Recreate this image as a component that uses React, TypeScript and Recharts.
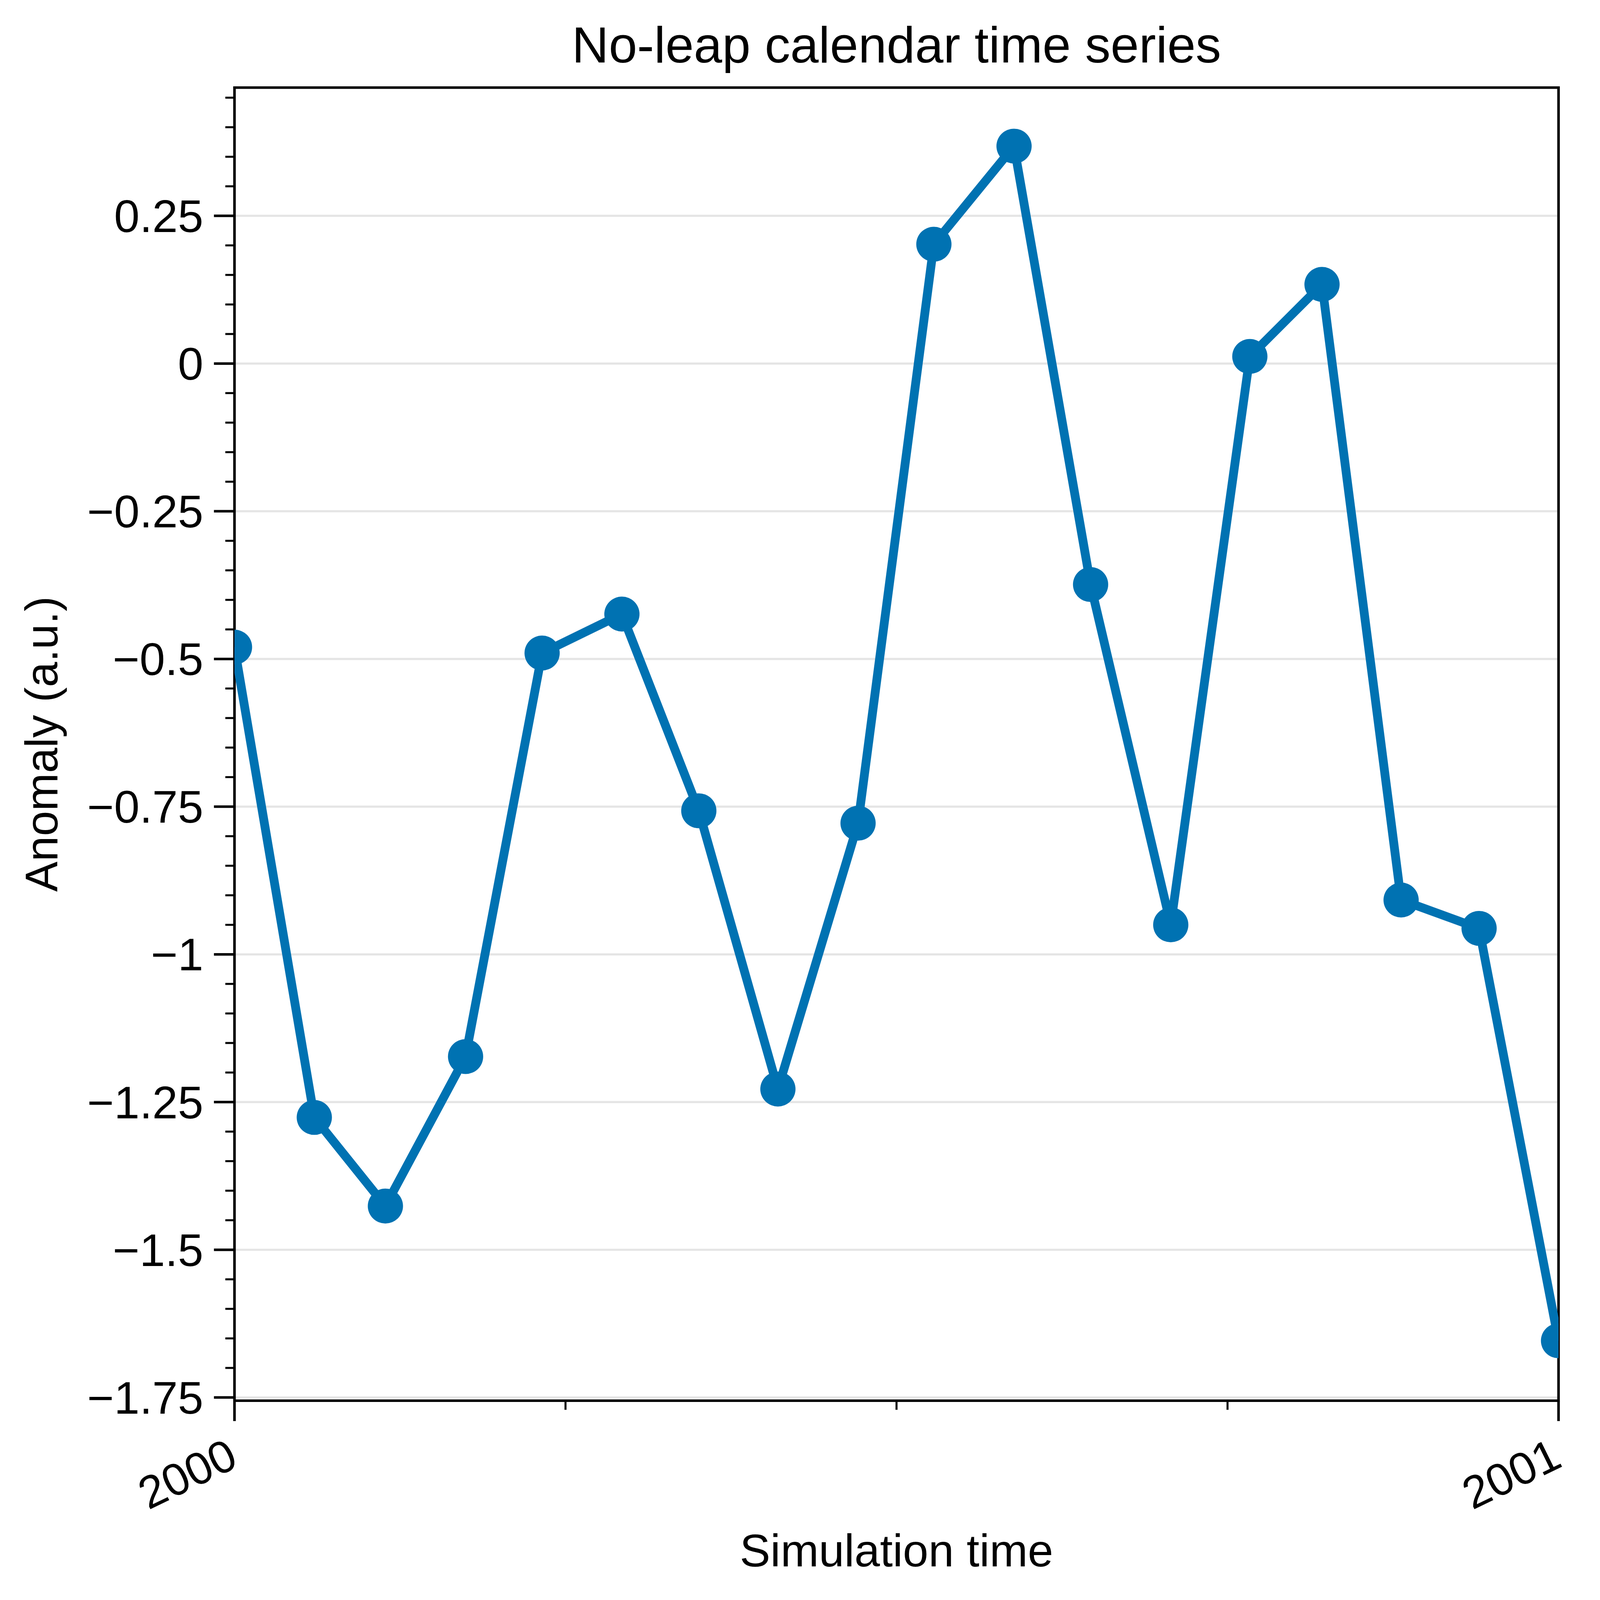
import { LineChart, Line, XAxis, YAxis, CartesianGrid, ReferenceArea } from "recharts";

// days since 2000-01-01 (no-leap calendar, 365 days in the year)
const dayOffsets = [0, 22.0, 41.6, 63.7, 84.8, 106.8, 128.0, 149.8, 171.9, 192.8, 214.9, 236.0, 258.1, 279.9, 299.8, 321.6, 343.1, 365];
const anomalies = [-0.48, -1.276, -1.426, -1.173, -0.49, -0.424, -0.757, -1.228, -0.778, 0.202, 0.368, -0.374, -0.95, 0.012, 0.134, -0.908, -0.956, -1.654];

const xMajorTicks = [0, 365];
const xMajorLabels = ["2000", "2001"];
const xMinorTicks = [91.25, 182.5, 273.75];

const yMajorTicks = [0.25, 0, -0.25, -0.5, -0.75, -1, -1.25, -1.5, -1.75];
const yMajorLabels = ["0.25", "0", "\u22120.25", "\u22120.5", "\u22120.75", "\u22121", "\u22121.25", "\u22121.5", "\u22121.75"];
const yMinorTicks = [
  0.45, 0.4, 0.35, 0.3, 0.2, 0.15, 0.1, 0.05, -0.05, -0.1, -0.15, -0.2, -0.3, -0.35, -0.4, -0.45,
  -0.55, -0.6, -0.65, -0.7, -0.8, -0.85, -0.9, -0.95, -1.05, -1.1, -1.15, -1.2, -1.3, -1.35,
  -1.4, -1.45, -1.55, -1.6, -1.65, -1.7,
];

const X_DOMAIN: [number, number] = [0, 365];
const Y_DOMAIN: [number, number] = [-1.7555, 0.467];

const W = 4360;
const H = 4400;
const BLUE = "#0072b2";
const FONT = "'Liberation Sans', Arial, Helvetica, sans-serif";

const points = dayOffsets.map((d, i) => ({ day: d, value: anomalies[i] }));

const findIdx = (list: number[], v: number) => list.findIndex((m) => Math.abs(m - v) < 1e-6);

function YTick(props: any) {
  const { x, y, payload } = props;
  const idx = findIdx(yMajorTicks, payload.value);
  const major = idx >= 0;
  const len = major ? 56 : 25;
  return (
    <g>
      <line x1={x - len} x2={x} y1={y} y2={y} stroke="#000" strokeWidth={major ? 7 : 5.5} />
      {major && (
        <text x={x - len - 29} y={y} dy="0.355em" textAnchor="end" fontSize={125} fontFamily={FONT} fill="#000">
          {yMajorLabels[idx]}
        </text>
      )}
    </g>
  );
}

function XTick(props: any) {
  const { x, y, payload } = props;
  const idx = findIdx(xMajorTicks, payload.value);
  const major = idx >= 0;
  const len = major ? 56 : 25;
  const ax = x + 15;
  const ay = y + 179;
  return (
    <g>
      <line x1={x} x2={x} y1={y} y2={y + len} stroke="#000" strokeWidth={major ? 7 : 5.5} />
      {major && (
        <text
          x={ax}
          y={ay}
          textAnchor="end"
          transform={`rotate(-26 ${ax} ${ay})`}
          fontSize={125}
          fontFamily={FONT}
          fill="#000"
        >
          {xMajorLabels[idx]}
        </text>
      )}
    </g>
  );
}

export default function App() {
  // the browser viewport may be smaller than the requested size, so fit the figure into it
  const vw = typeof window !== "undefined" ? window.innerWidth : W;
  const vh = typeof window !== "undefined" ? window.innerHeight : H;
  const sx = Math.min(1, vw / W);
  const sy = Math.min(1, vh / H);

  return (
    <div
      style={{
        position: "absolute",
        left: 0,
        top: 0,
        width: W * sx,
        height: H * sy,
        overflow: "hidden",
        background: "#fff",
      }}
    >
      <div style={{ width: W, height: H, transform: `scale(${sx}, ${sy})`, transformOrigin: "0 0" }}>
        <LineChart width={W} height={H} data={points} margin={{ top: 241, right: 113, bottom: 0, left: 0 }}>
          <CartesianGrid vertical={false} horizontalValues={yMajorTicks} stroke="#e5e5e5" strokeWidth={6} />
          <XAxis
            dataKey="day"
            type="number"
            domain={X_DOMAIN}
            allowDataOverflow
            ticks={[...xMajorTicks, ...xMinorTicks]}
            interval={0}
            height={548}
            axisLine={false}
            tickLine={false}
            tickSize={0}
            tickMargin={0}
            tick={XTick}
          />
          <YAxis
            type="number"
            domain={Y_DOMAIN}
            allowDataOverflow
            ticks={[...yMajorTicks, ...yMinorTicks]}
            interval={0}
            width={639}
            axisLine={false}
            tickLine={false}
            tickSize={0}
            tickMargin={0}
            tick={YTick}
          />
          <Line
            type="linear"
            dataKey="value"
            stroke={BLUE}
            strokeWidth={24}
            strokeLinejoin="round"
            dot={{ r: 48, fill: BLUE, stroke: BLUE, strokeWidth: 0 }}
            activeDot={false}
            isAnimationActive={false}
          />
          <ReferenceArea
            x1={X_DOMAIN[0]}
            x2={X_DOMAIN[1]}
            y1={Y_DOMAIN[0]}
            y2={Y_DOMAIN[1]}
            fill="none"
            fillOpacity={0}
            stroke="#000"
            strokeWidth={7}
            ifOverflow="visible"
          />
          <text x={2443} y={172} textAnchor="middle" fontSize={139} fontFamily={FONT} fill="#000">
            No-leap calendar time series
          </text>
          <text x={2443} y={4308} textAnchor="middle" fontSize={125} fontFamily={FONT} fill="#000">
            Simulation time
          </text>
          <text
            x={156}
            y={2046}
            textAnchor="middle"
            transform="rotate(-90 156 2046)"
            fontSize={125}
            fontFamily={FONT}
            fill="#000"
          >
            Anomaly (a.u.)
          </text>
        </LineChart>
      </div>
    </div>
  );
}
